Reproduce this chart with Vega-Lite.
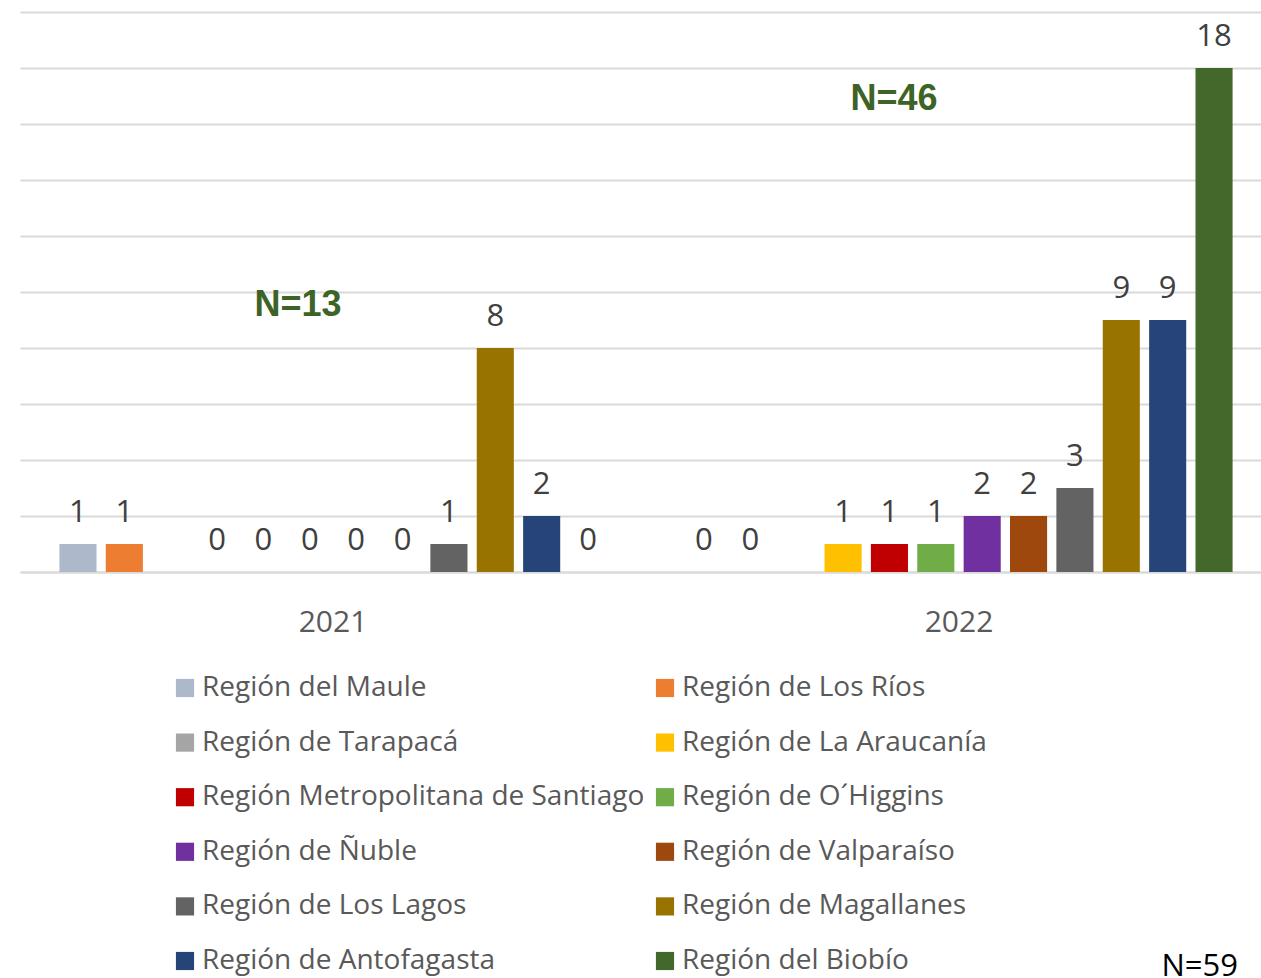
{
  "$schema": "https://vega.github.io/schema/vega-lite/v6.json",
  "autosize": "none",
  "width": 1241,
  "height": 560,
  "padding": {"left": 20, "top": 12, "right": 0, "bottom": 406},
  "background": "white",
  "config": {"view": {"stroke": null}, "font": "Open Sans"},
  "title": {"text": "N=59", "orient": "bottom", "anchor": "end", "frame": "group", "fontSize": 31, "font": "Open Sans", "fontWeight": "normal", "color": "#000000", "offset": -23, "dx": -23},
  "datasets": {
    "counts": [
      {"year": "2021", "region": "Región del Maule", "value": 1},
      {"year": "2021", "region": "Región de Los Ríos", "value": 1},
      {"year": "2021", "region": "Región de La Araucanía", "value": 0},
      {"year": "2021", "region": "Región Metropolitana de Santiago", "value": 0},
      {"year": "2021", "region": "Región de O´Higgins", "value": 0},
      {"year": "2021", "region": "Región de Ñuble", "value": 0},
      {"year": "2021", "region": "Región de Valparaíso", "value": 0},
      {"year": "2021", "region": "Región de Los Lagos", "value": 1},
      {"year": "2021", "region": "Región de Magallanes", "value": 8},
      {"year": "2021", "region": "Región de Antofagasta", "value": 2},
      {"year": "2021", "region": "Región del Biobío", "value": 0},
      {"year": "2022", "region": "Región del Maule", "value": 0},
      {"year": "2022", "region": "Región de Los Ríos", "value": 0},
      {"year": "2022", "region": "Región de La Araucanía", "value": 1},
      {"year": "2022", "region": "Región Metropolitana de Santiago", "value": 1},
      {"year": "2022", "region": "Región de O´Higgins", "value": 1},
      {"year": "2022", "region": "Región de Ñuble", "value": 2},
      {"year": "2022", "region": "Región de Valparaíso", "value": 2},
      {"year": "2022", "region": "Región de Los Lagos", "value": 3},
      {"year": "2022", "region": "Región de Magallanes", "value": 9},
      {"year": "2022", "region": "Región de Antofagasta", "value": 9},
      {"year": "2022", "region": "Región del Biobío", "value": 18}
    ],
    "totals": [
      {"year": "2021", "label": "N=13", "pos": 9.55},
      {"year": "2022", "label": "N=46", "pos": 16.9}
    ]
  },
  "layer": [
    {
      "data": {"name": "counts"},
      "mark": {"type": "bar"},
      "encoding": {
        "x": {"field": "year", "type": "nominal", "scale": {"range": [0, 1252], "paddingInner": 0, "paddingOuter": 0},
          "axis": {"title": null, "labelAngle": 0, "labelFontSize": 30, "labelColor": "#595959", "labelFont": "Open Sans", "labelPadding": 35, "ticks": false, "domainColor": "#d9d9d9", "domainWidth": 2, "grid": false}},
        "xOffset": {"field": "region", "type": "nominal", "scale": {"domain": ["Región del Maule", "Región de Los Ríos", "Región de Tarapacá", "Región de La Araucanía", "Región Metropolitana de Santiago", "Región de O´Higgins", "Región de Ñuble", "Región de Valparaíso", "Región de Los Lagos", "Región de Magallanes", "Región de Antofagasta", "Región del Biobío"], "paddingInner": 0.2, "paddingOuter": 0.85}},
        "y": {"field": "value", "type": "quantitative", "scale": {"domain": [0, 20], "nice": false},
          "axis": {"title": null, "labels": false, "ticks": false, "domain": false, "grid": true, "gridColor": "#d9d9d9", "gridWidth": 2, "values": [0, 2, 4, 6, 8, 10, 12, 14, 16, 18, 20]}},
        "color": {"field": "region", "type": "nominal",
          "scale": {"domain": ["Región del Maule", "Región de Los Ríos", "Región de Tarapacá", "Región de La Araucanía", "Región Metropolitana de Santiago", "Región de O´Higgins", "Región de Ñuble", "Región de Valparaíso", "Región de Los Lagos", "Región de Magallanes", "Región de Antofagasta", "Región del Biobío"],
            "range": ["#adb9ca", "#ed7d31", "#a5a5a5", "#ffc000", "#c00000", "#70ad47", "#7030a0", "#9e480e", "#636363", "#997300", "#264478", "#43682b"]},
          "legend": {"title": null, "orient": "none", "direction": "horizontal", "legendX": 151, "legendY": 662, "columns": 2, "symbolType": "square", "symbolSize": 330, "symbolStrokeWidth": 0, "labelFontSize": 28, "labelFont": "Open Sans", "labelColor": "#595959", "labelOffset": 3, "rowPadding": 26.6, "columnPadding": 6, "labelLimit": 600}}
      }
    },
    {
      "data": {"name": "counts"},
      "mark": {"type": "text", "fontSize": 31, "font": "Open Sans", "color": "#404040", "baseline": "middle", "dy": -31},
      "encoding": {
        "x": {"field": "year", "type": "nominal"},
        "xOffset": {"field": "region", "type": "nominal"},
        "y": {"field": "value", "type": "quantitative"},
        "text": {"field": "value", "type": "quantitative"}
      }
    },
    {
      "data": {"name": "totals"},
      "transform": [{"filter": "datum.year == '2021'"}],
      "mark": {"type": "text", "fontSize": 36, "font": "Liberation Sans", "fontWeight": "bold", "color": "#3d6327", "baseline": "middle", "dx": -35},
      "encoding": {
        "x": {"field": "year", "type": "nominal"},
        "y": {"field": "pos", "type": "quantitative"},
        "text": {"field": "label", "type": "nominal"}
      }
    },
    {
      "data": {"name": "totals"},
      "transform": [{"filter": "datum.year == '2022'"}],
      "mark": {"type": "text", "fontSize": 36, "font": "Liberation Sans", "fontWeight": "bold", "color": "#3d6327", "baseline": "middle", "dx": -65},
      "encoding": {
        "x": {"field": "year", "type": "nominal"},
        "y": {"field": "pos", "type": "quantitative"},
        "text": {"field": "label", "type": "nominal"}
      }
    }
  ]
}
